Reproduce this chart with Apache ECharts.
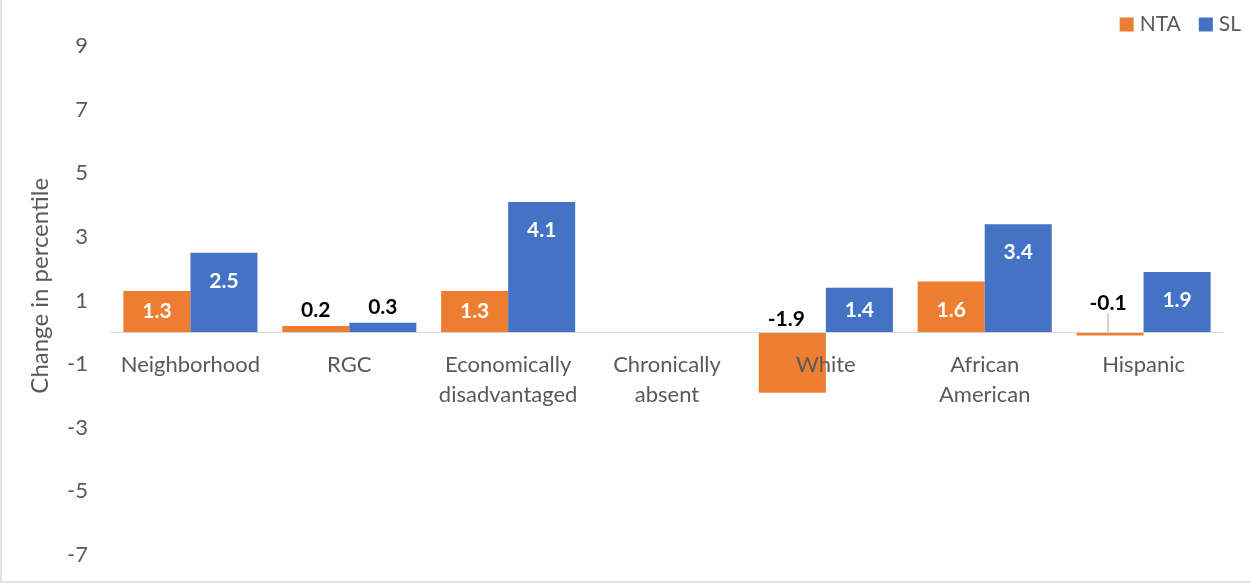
<!DOCTYPE html>
<html>
<head>
<meta charset="utf-8">
<script src="https://cdn.jsdelivr.net/npm/echarts@6/dist/echarts.min.js"></script>
<style>
  html, body { margin: 0; padding: 0; background: #fff; }
  #chart { width: 1250px; height: 583px; }
</style>
</head>
<body>
<div id="chart"></div>
<script>
// Change in percentile by student group, for NTA and SL
const categories = ['Neighborhood', 'RGC', 'Economically\ndisadvantaged', 'Chronically\nabsent', 'White', 'African\nAmerican', 'Hispanic'];
const ntaValues = [1.3, 0.2, 1.3, null, -1.9, 1.6, -0.1];
const slValues = [2.5, 0.3, 4.1, null, 1.4, 3.4, 1.9];
const yTickValues = [-7, -5, -3, -1, 1, 3, 5, 7, 9];

const FONT = 'Lato, "Liberation Sans", sans-serif';
const GREY = '#595959';
const GRID_BOTTOM = 5.8;

// Label placement for each bar, depending on its value
function labelFor(v) {
  const base = { show: true, fontFamily: FONT, fontSize: 21, fontWeight: 'bold', formatter: (p) => p.value.toFixed(1) };
  if (v >= 1.5) return Object.assign(base, { position: 'insideTop', distance: 18, color: '#fff' });
  if (v >= 1) return Object.assign(base, { position: 'inside', offset: [0, -2], color: '#fff' });
  if (v >= 0) return Object.assign(base, { position: 'top', distance: 5, color: '#000' });
  return Object.assign(base, { position: 'top', distance: 3, color: '#000' });
}

// Small negative values get their label lifted, with a leader line to the bar
const isSmallNegative = (v) => v !== null && v < 0 && v > -0.5;

function toData(values) {
  return values.map((v) => {
    if (v === null) return null;
    const item = { value: v, label: labelFor(v) };
    if (isSmallNegative(v)) {
      item.labelLine = { show: true, lineStyle: { color: '#a6a6a6', width: 1 } };
    }
    return item;
  });
}

function negativeLabelLayout(values) {
  return (params) => {
    const v = values[params.dataIndex];
    if (isSmallNegative(v)) return { dy: -16, dx: -2 };
    if (v !== null && v < 0) return { dx: -6 };
    return {};
  };
}

const chart = echarts.init(document.getElementById('chart'), null, { renderer: 'canvas' });

chart.setOption({
  animation: false,
  backgroundColor: '#fff',
  textStyle: { fontFamily: FONT },
  legend: {
    right: 4,
    top: 9,
    icon: 'rect',
    itemWidth: 14,
    itemHeight: 14,
    itemGap: 18,
    textStyle: { fontFamily: FONT, fontSize: 21, color: GREY, padding: [0, 0, 0, 1] },
    data: ['NTA', 'SL']
  },
  grid: { left: 111, right: 27, top: 14.3, bottom: GRID_BOTTOM, containLabel: false, outerBoundsMode: 'none' },
  xAxis: {
    type: 'category',
    data: categories,
    z: 5,
    axisLine: { onZero: false, lineStyle: { color: '#d9d9d9', width: 1 } },
    axisTick: { show: false },
    axisLabel: { fontFamily: FONT, fontSize: 22, color: GREY, margin: 18, lineHeight: 30, interval: 0 },
    splitLine: { show: false }
  },
  yAxis: {
    type: 'value',
    min: -7.7,
    max: 10,
    name: 'Change in percentile',
    nameLocation: 'middle',
    nameGap: 59,
    nameTextStyle: { fontFamily: FONT, fontSize: 24, color: GREY, padding: [0, 0, 0, 20] },
    axisLine: { show: false },
    axisTick: { show: false },
    splitLine: { show: false },
    axisLabel: { fontFamily: FONT, fontSize: 22, color: GREY, margin: 23, customValues: yTickValues }
  },
  graphic: [{
    type: 'rect',
    silent: true,
    shape: { x: 1, y: -5, width: 1260, height: 587 },
    style: { fill: 'none', stroke: '#d9d9d9', lineWidth: 1.5 }
  }],
  series: [
    {
      name: 'NTA',
      type: 'bar',
      data: toData(ntaValues),
      itemStyle: { color: '#ED7D31' },
      barGap: '0%',
      barCategoryGap: '15.6%',
      labelLayout: negativeLabelLayout(ntaValues)
    },
    {
      name: 'SL',
      type: 'bar',
      data: toData(slValues),
      itemStyle: { color: '#4472C4' },
      barGap: '0%',
      barCategoryGap: '15.6%',
      labelLayout: negativeLabelLayout(slValues)
    }
  ]
});

// Move the category axis (line and labels together) up to the zero value
const zeroY = chart.convertToPixel({ yAxisIndex: 0 }, 0);
const gridBottomY = chart.getHeight() - GRID_BOTTOM;
chart.setOption({ xAxis: { offset: zeroY - gridBottomY } });
</script>
</body>
</html>
